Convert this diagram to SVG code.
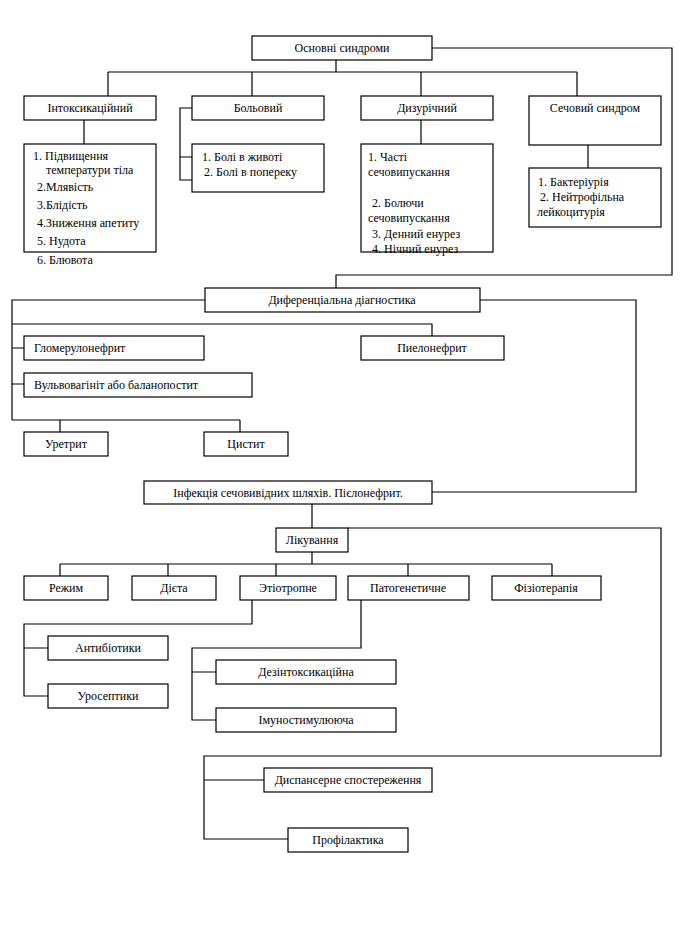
<svg xmlns="http://www.w3.org/2000/svg" width="685" height="925" viewBox="0 0 685 925">
<style>
rect{fill:#fff;stroke:#000;stroke-width:1.2}
#connectors path{fill:none;stroke:#000;stroke-width:1.2}
text{font-family:"Liberation Serif","Times New Roman",serif;font-size:12px;fill:#000}
.c{text-anchor:middle}
</style>
<rect x="0" y="0" width="685" height="925" style="stroke:none"/>
<g id="connectors">
<path d="M432 48H672V275H336V288"/>
<path d="M336 60V72M108 72H577M108 72V96M252 72V96M421 72V96M577 72V96"/>
<path d="M84 120V144"/>
<path d="M192 108H180V180H192M180 157H192"/>
<path d="M421 120V144"/>
<path d="M588 145V168"/>
<path d="M480 300H636V492H432"/>
<path d="M205 300H12V420M12 324H432V336M12 348H24M12 384H24"/>
<path d="M12 420H240M60 420V432M240 420V432"/>
<path d="M312 504V528"/>
<path d="M348 528H661V756H204V839H288M204 780H264"/>
<path d="M312 552V564M60 564H552M60 564V576M168 564V576M276 564V576M408 564V576M552 564V576"/>
<path d="M252 600V624H24V696H48M24 648H48"/>
<path d="M361 600V648H192V720H216M192 672H216"/>
</g>
<g id="n-osnovni"><rect x="252" y="36" width="180" height="24"/><text class="c" x="342" y="52">Основні синдроми</text></g>
<g id="n-intox"><rect x="24" y="96" width="132" height="24"/><text class="c" x="90" y="112">Інтоксикаційний</text></g>
<g id="n-bol"><rect x="192" y="96" width="132" height="24"/><text class="c" x="258" y="112">Больовий</text></g>
<g id="n-dyz"><rect x="361" y="96" width="132" height="24"/><text class="c" x="427" y="112">Дизурічний</text></g>
<g id="n-sech"><rect x="529" y="96" width="132" height="49"/><text class="c" x="595" y="112">Сечовий синдром</text></g>
<g id="n-intox-list"><rect x="24" y="144" width="132" height="108"/>
<text x="33" y="160">1. Підвищення</text>
<text x="46" y="174">температури тіла</text>
<text x="37" y="191">2.Млявість</text>
<text x="37" y="209">3.Блідість</text>
<text x="37" y="227">4.Зниження апетиту</text>
<text x="37" y="245">5. Нудота</text>
<text x="37" y="264">6. Блювота</text></g>
<g id="n-bol-list"><rect x="192" y="144" width="132" height="48"/>
<text x="202" y="161">1. Болі в животі</text>
<text x="204" y="176">2. Болі в попереку</text></g>
<g id="n-dyz-list"><rect x="361" y="144" width="132" height="108"/>
<text x="368" y="161">1. Часті</text>
<text x="368" y="176">сечовипускання</text>
<text x="372" y="207">2. Болючи</text>
<text x="368" y="222">сечовипускання</text>
<text x="372" y="238">3. Денний енурез</text>
<text x="372" y="253">4. Нічний енурез</text></g>
<g id="n-sech-list"><rect x="529" y="168" width="132" height="59"/>
<text x="538" y="186">1. Бактеріурія</text>
<text x="540" y="201">2. Нейтрофільна</text>
<text x="537" y="216">лейкоцитурія</text></g>
<g id="n-dyf"><rect x="205" y="288" width="275" height="24"/><text class="c" x="342" y="304">Диференціальна діагностика</text></g>
<g id="n-glom"><rect x="24" y="336" width="180" height="24"/><text x="34" y="352">Гломерулонефрит</text></g>
<g id="n-piel"><rect x="361" y="336" width="143" height="24"/><text class="c" x="432" y="352">Пиелонефрит</text></g>
<g id="n-vulv"><rect x="24" y="373" width="228" height="24"/><text x="34" y="389">Вульвовагініт або баланопостит</text></g>
<g id="n-uret"><rect x="24" y="432" width="84" height="24"/><text class="c" x="66" y="448">Уретрит</text></g>
<g id="n-cyst"><rect x="204" y="432" width="84" height="24"/><text class="c" x="246" y="448">Цистит</text></g>
<g id="n-infek"><rect x="144" y="481" width="288" height="23"/><text class="c" x="288" y="497">Інфекція сечовивідних шляхів. Пієлонефрит.</text></g>
<g id="n-likuv"><rect x="276" y="528" width="72" height="24"/><text class="c" x="312" y="544">Лікування</text></g>
<g id="n-rezhym"><rect x="24" y="576" width="84" height="24"/><text class="c" x="66" y="592">Режим</text></g>
<g id="n-dieta"><rect x="132" y="576" width="84" height="24"/><text class="c" x="174" y="592">Дієта</text></g>
<g id="n-etio"><rect x="240" y="576" width="96" height="24"/><text class="c" x="288" y="592">Этіотропне</text></g>
<g id="n-pato"><rect x="348" y="576" width="121" height="24"/><text class="c" x="408" y="592">Патогенетичне</text></g>
<g id="n-fizio"><rect x="492" y="576" width="109" height="24"/><text class="c" x="546" y="592">Фізіотерапія</text></g>
<g id="n-antyb"><rect x="48" y="636" width="120" height="24"/><text class="c" x="108" y="652">Антибіотики</text></g>
<g id="n-uros"><rect x="48" y="684" width="120" height="24"/><text class="c" x="108" y="700">Уросептики</text></g>
<g id="n-dezin"><rect x="216" y="660" width="180" height="24"/><text class="c" x="306" y="676">Дезінтоксикаційна</text></g>
<g id="n-imun"><rect x="216" y="708" width="180" height="24"/><text class="c" x="306" y="724">Імуностимулююча</text></g>
<g id="n-dysp"><rect x="264" y="768" width="168" height="24"/><text class="c" x="348" y="784">Диспансерне спостереження</text></g>
<g id="n-profil"><rect x="288" y="828" width="120" height="24"/><text class="c" x="348" y="844">Профілактика</text></g>
</svg>
